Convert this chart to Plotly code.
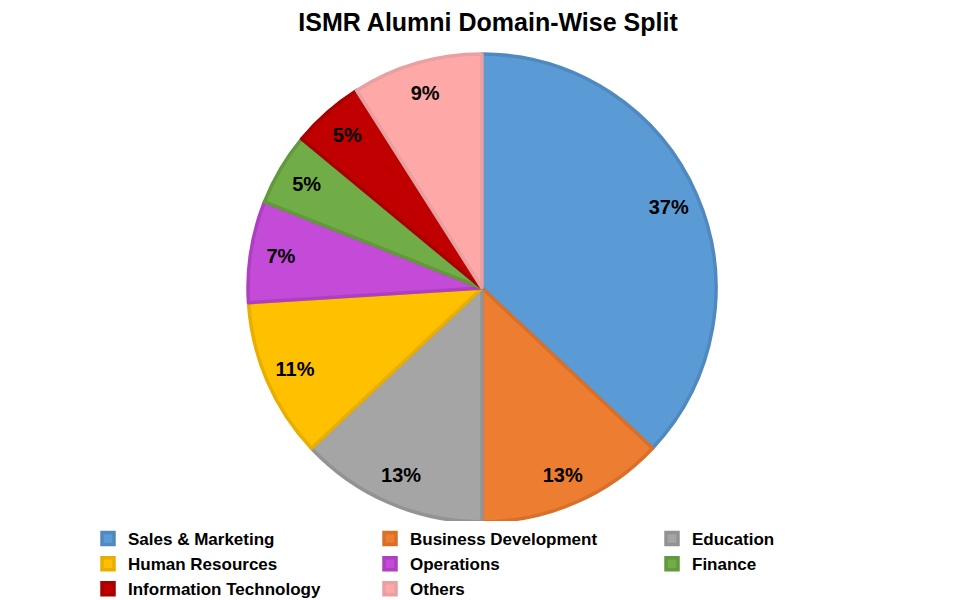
import plotly.graph_objects as go

labels = ["Sales & Marketing", "Business Development", "Education", "Human Resources",
          "Operations", "Finance", "Information Technology", "Others"]
values = [37, 13, 13, 11, 7, 5, 5, 9]
colors = ["#5B9BD5", "#ED7D31", "#A5A5A5", "#FFC000", "#C44BD8", "#70AD47", "#C00000", "#FFA8A8"]
borders = ["#5088C0", "#D8702A", "#939393", "#E8AE00", "#AD3FC0", "#62993C", "#A80000", "#E8A0A0"]

dom = dict(x=[0.2508, 0.7398], y=[0.1433, 0.9233])
font = "Liberation Sans, Arial"

fig = go.Figure()
# filled pie with borders (legend source)
fig.add_trace(go.Pie(
    labels=labels, values=values, sort=False, direction="clockwise", rotation=0,
    marker=dict(colors=colors, line=dict(color=borders, width=3.5)),
    textinfo="none", domain=dom, hoverinfo="label+percent",
))
# transparent ring carrying the percentage labels near the rim
fig.add_trace(go.Pie(
    labels=labels, values=values, sort=False, direction="clockwise", rotation=0,
    hole=0.74, showlegend=False,
    marker=dict(colors=["rgba(0,0,0,0)"] * len(values), line=dict(width=0)),
    texttemplate="%{percent:.0%}", textposition="inside", insidetextorientation="horizontal",
    textfont=dict(family=font, size=20, color="black", weight="bold"),
    domain=dom, hoverinfo="skip",
))

fig.update_layout(
    width=957, height=600,
    margin=dict(l=0, r=0, t=0, b=0, autoexpand=False),
    paper_bgcolor="white", plot_bgcolor="white",
    title=dict(text="<b>ISMR Alumni Domain-Wise Split</b>", x=0.5016, xanchor="center",
               y=0.9767, yanchor="middle",
               font=dict(family=font, size=25, color="black")),
    legend=dict(orientation="h", x=0.0836, xanchor="left", y=0.145, yanchor="top",
                entrywidth=237, entrywidthmode="pixels", traceorder="normal",
                font=dict(family=font, size=17, color="black", weight="bold"),
                itemwidth=30, tracegroupgap=0),
)

fig.write_html("out.html")
